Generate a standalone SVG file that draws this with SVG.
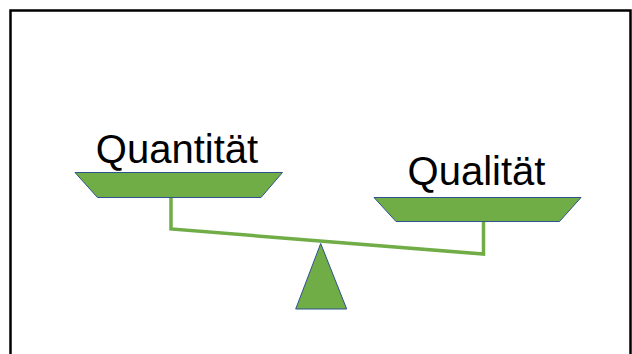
<svg xmlns="http://www.w3.org/2000/svg" width="632" height="354" viewBox="0 0 632 354">
<style>
.pan{fill:#70AD47;stroke:#2F528F;stroke-width:1}
.lbl{font-family:"Liberation Sans",Arial,sans-serif;font-size:40px;fill:#000}
.beam{fill:none;stroke:#70AD47;stroke-width:3.5;stroke-linejoin:miter}
</style>
<rect x="0" y="0" width="632" height="354" fill="#fff"/>
<path d="M10.5 365 V10.5 H630.5 V365" fill="none" stroke="#000" stroke-width="2.5"/>
<g id="connectors">
<polyline class="beam" points="171,197 171,229 483.5,254 483.5,221.5"/>
</g>
<g id="quantitaet">
<polygon class="pan" points="75,172.5 282.5,172.5 261,197.5 97.5,197.5"/>
<text class="lbl" x="177" y="163" text-anchor="middle">Quantität</text>
</g>
<g id="qualitaet">
<polygon class="pan" points="374,197.5 581,197.5 559.5,221.5 396,221.5"/>
<text class="lbl" x="476.5" y="185" text-anchor="middle">Qualität</text>
</g>
<g id="fulcrum">
<polygon class="pan" points="320.7,243.5 346.7,309 295.7,309"/>
</g>
</svg>
